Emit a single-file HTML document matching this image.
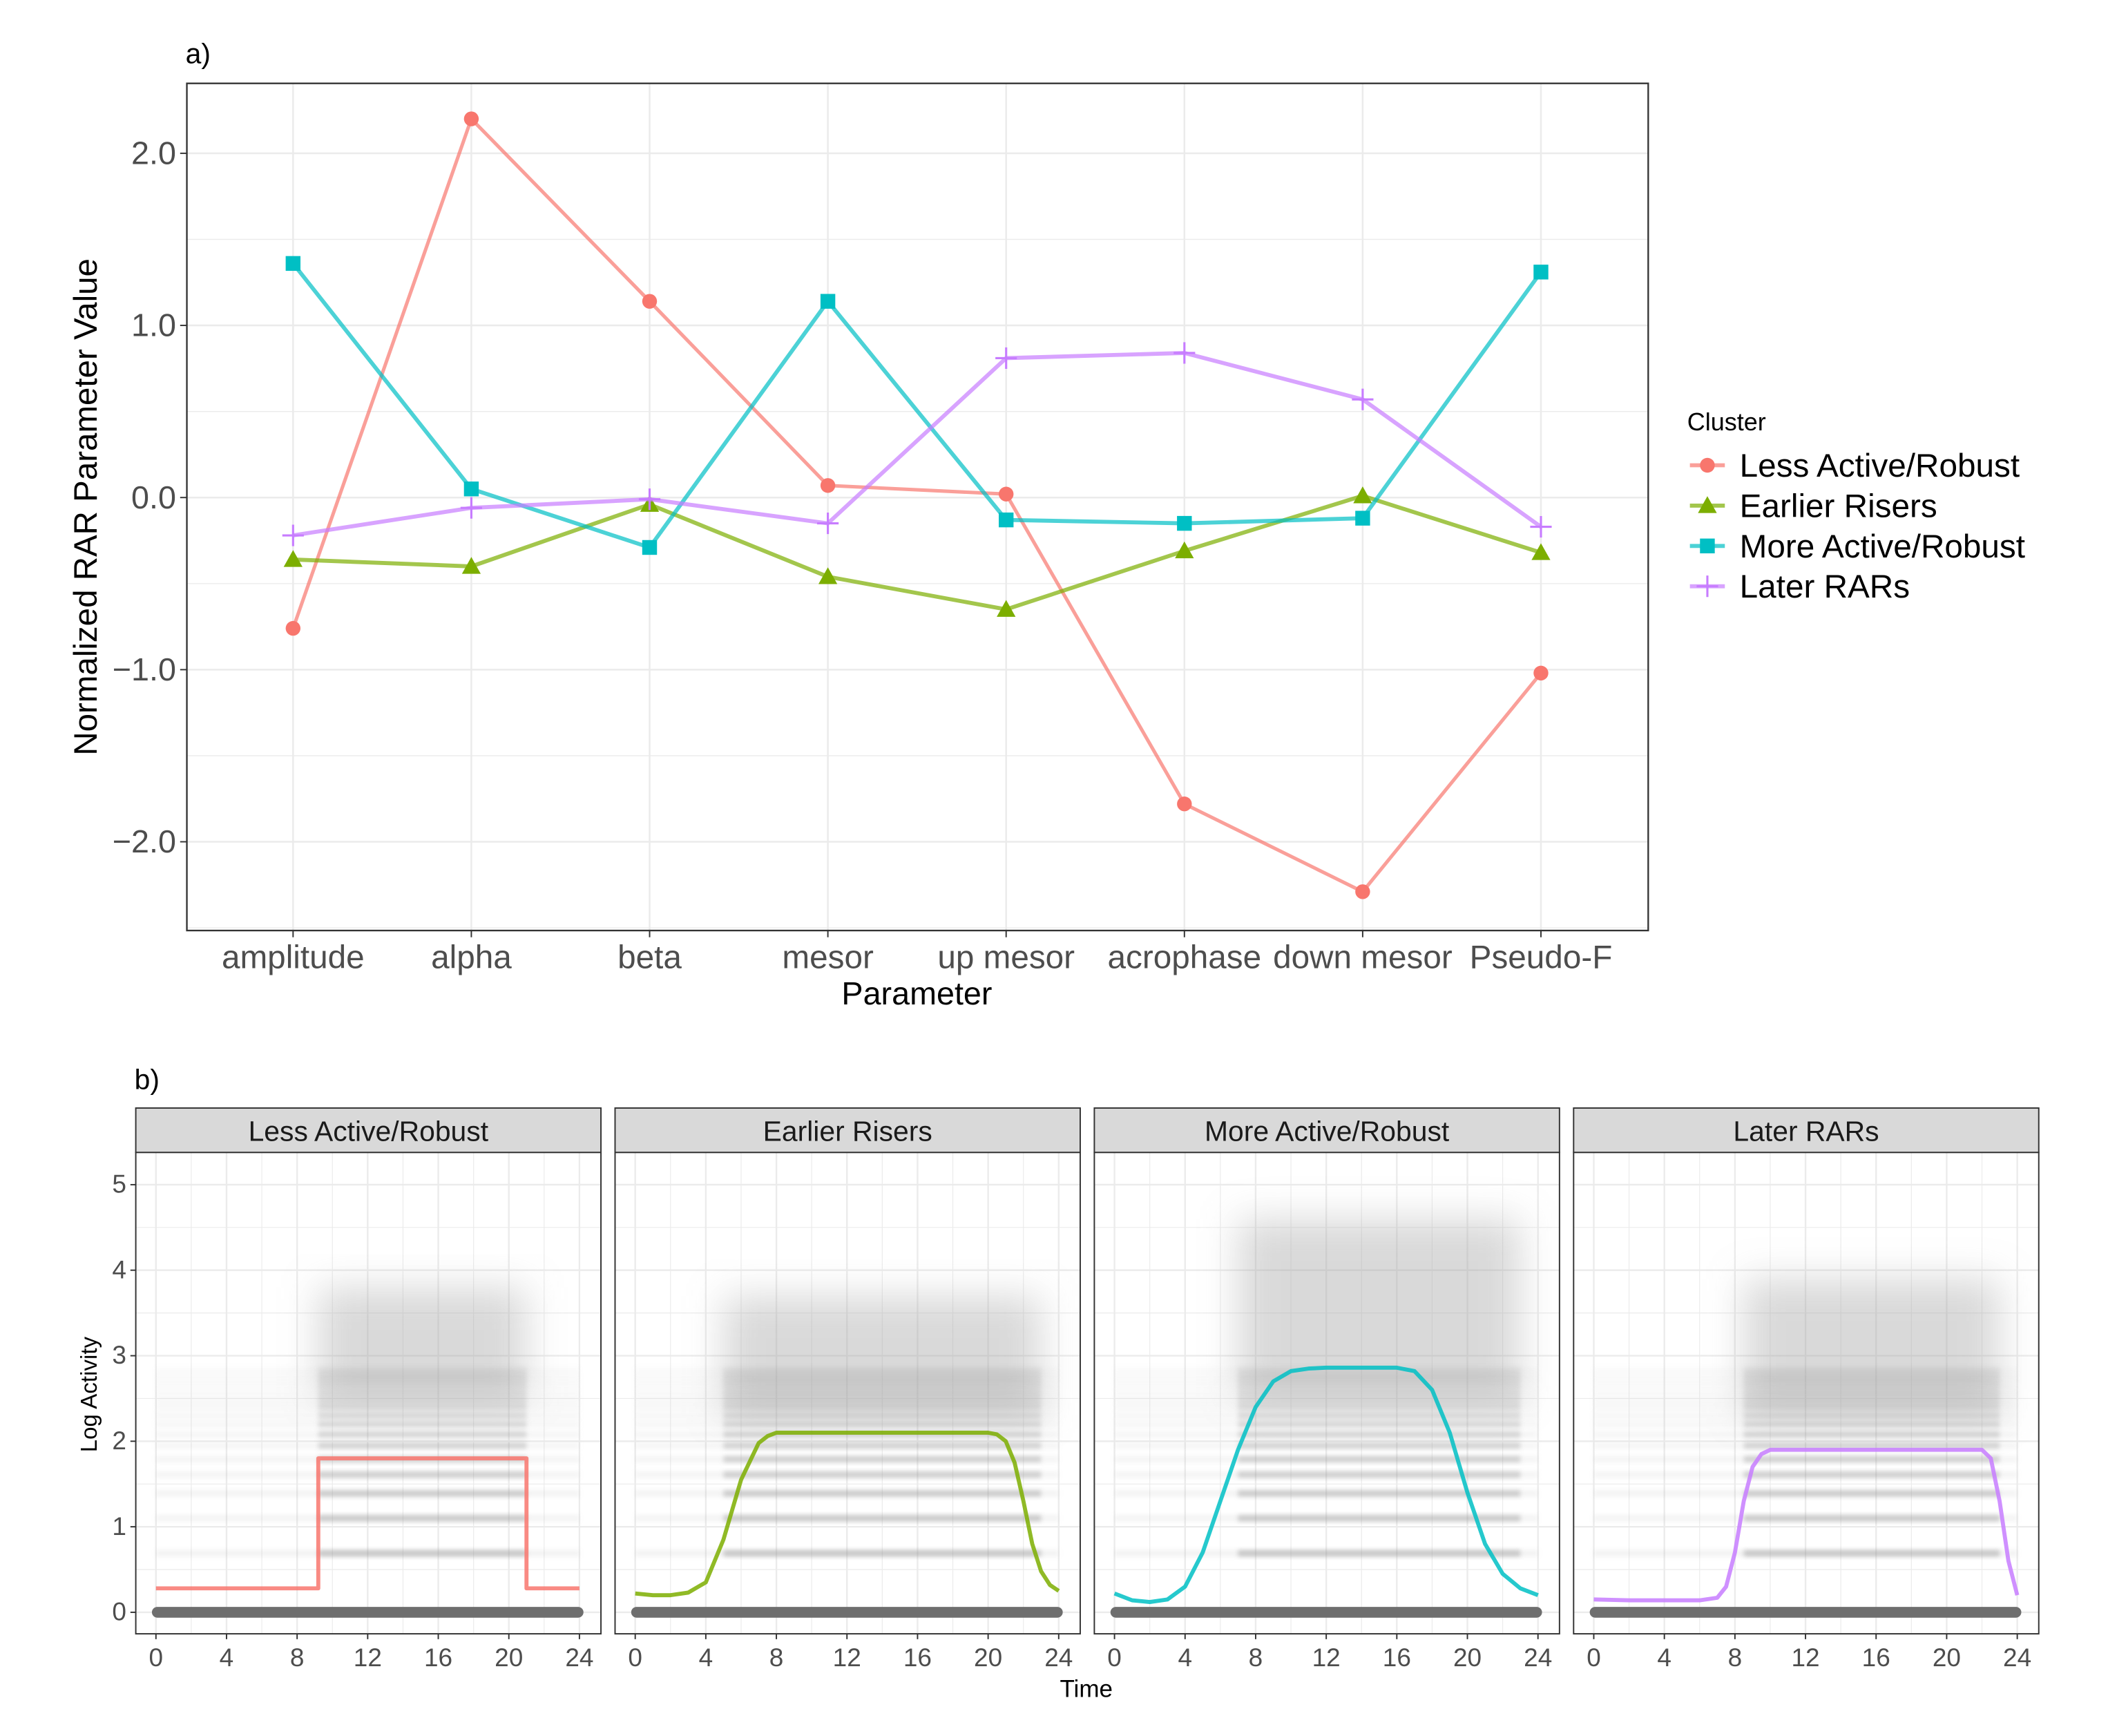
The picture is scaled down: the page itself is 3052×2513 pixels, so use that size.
<!DOCTYPE html>
<html><head><meta charset="utf-8"><style>
html,body{margin:0;padding:0;background:#fff;}
svg{display:block;font-family:"Liberation Sans",sans-serif;}
</style></head><body>
<svg id="fig" width="3052" height="2513" viewBox="0 0 1568 1291" preserveAspectRatio="none" xmlns="http://www.w3.org/2000/svg">
<defs>
<filter id="blur1" x="-20%" y="-50%" width="140%" height="200%"><feGaussianBlur stdDeviation="1.6"/></filter>
<filter id="blur2" x="-30%" y="-30%" width="160%" height="160%"><feGaussianBlur stdDeviation="14"/></filter>
</defs>
<g id="panelA"></g>
<g id="panelB"></g>
</svg>
<script>
const categories=["amplitude","alpha","beta","mesor","up mesor","acrophase","down mesor","Pseudo-F"];
const seriesNames=["Less Active/Robust","Earlier Risers","More Active/Robust","Later RARs"];
const lessActive=[-0.76,2.2,1.14,0.07,0.02,-1.78,-2.29,-1.02];
const earlierRisers=[-0.36,-0.40,-0.04,-0.46,-0.65,-0.31,0.01,-0.32];
const moreActive=[1.36,0.05,-0.29,1.14,-0.13,-0.15,-0.12,1.31];
const laterRARs=[-0.22,-0.06,-0.01,-0.15,0.81,0.84,0.57,-0.17];
const yTicks=[2,1,0,-1,-2];
const yTickLabels=["2.0","1.0","0.0","\u22121.0","\u22122.0"];
const colors=["#F8766D","#7CAE00","#00BFC4","#C77CFF"];

const hoursTicks=[0,4,8,12,16,20,24];
const logTicks=[0,1,2,3,4,5];
const curve1H=[0,9.2,9.2,21,21,24];
const curve1V=[0.28,0.28,1.8,1.8,0.28,0.28];
const curve2H=[0,1,2,3,4,5,6,7,7.5,8,12,16,20,20.5,21,21.5,22,22.5,23,23.5,24];
const curve2V=[0.22,0.2,0.2,0.23,0.35,0.85,1.55,1.98,2.06,2.1,2.1,2.1,2.1,2.08,2.0,1.75,1.3,0.8,0.48,0.32,0.25];
const curve3H=[0,1,2,3,4,5,6,7,8,9,10,11,12,16,17,18,19,20,21,22,23,24];
const curve3V=[0.22,0.14,0.12,0.15,0.3,0.7,1.3,1.9,2.4,2.7,2.82,2.85,2.86,2.86,2.82,2.6,2.1,1.4,0.8,0.45,0.28,0.2];
const curve4H=[0,2,6,7,7.5,8,8.5,9,9.5,10,22,22.5,23,23.5,24];
const curve4V=[0.15,0.14,0.14,0.17,0.3,0.7,1.3,1.7,1.85,1.9,1.9,1.8,1.3,0.6,0.2];
const bandLevels=[0.69,1.1,1.39,1.61,1.79,1.95,2.08,2.2,2.3,2.4,2.48,2.56,2.64,2.71,2.77,2.83];
const activeStart=[9.2,5,7,8.5];
const activeEnd=[21,23,23,23];
const cloudTop=[3.8,3.7,4.6,3.9];
const cloudBottom=[2.5,2.3,2.5,2.3];

const NS="http://www.w3.org/2000/svg";
function mk(tag,attrs,parent){const e=document.createElementNS(NS,tag);for(const k in attrs)e.setAttribute(k,attrs[k]);parent.appendChild(e);return e;}

// ---------- Panel A ----------
const A=document.getElementById('panelA');
const ax0=139,ax1=1226,ay0=62,ay1=692;
const xA=i=>218+i*132.6;
const yA=v=>370-v*128;
let t=mk('text',{x:138,y:47,'font-size':21,fill:'#000'},A);t.textContent='a)';

let r=mk('rect',{x:ax0,y:ay0,width:ax1-ax0,height:ay1-ay0,fill:'#fff'},A);
for(let v=-2.5;v<=2.5;v+=0.5){const y=yA(v);if(y<ay0||y>ay1)continue;
 const l=mk('line',{x1:ax0,x2:ax1,y1:y,y2:y,stroke:'#ebebeb','stroke-width':Number.isInteger(v)?1.3:0.7},A);
 }
categories.forEach((c,i)=>{const l=mk('line',{x1:xA(i),x2:xA(i),y1:ay0,y2:ay1,stroke:'#ebebeb','stroke-width':1.3},A);
 });
r=mk('rect',{x:ax0,y:ay0,width:ax1-ax0,height:ay1-ay0,fill:'none',stroke:'#333','stroke-width':1.2},A);

yTicks.forEach((v,i)=>{mk('line',{x1:ax0-5,x2:ax0,y1:yA(v),y2:yA(v),stroke:'#333'},A);
 const tt=mk('text',{x:ax0-8,y:yA(v)+8,'font-size':24,fill:'#4d4d4d','text-anchor':'end'},A);tt.textContent=yTickLabels[i];
 });
categories.forEach((c,i)=>{mk('line',{x1:xA(i),x2:xA(i),y1:ay1,y2:ay1+5,stroke:'#333'},A);
 const tt=mk('text',{x:xA(i),y:720,'font-size':24.5,fill:'#4d4d4d','text-anchor':'middle'},A);tt.textContent=c;
 });
t=mk('text',{x:682,y:747,'font-size':24,fill:'#000','text-anchor':'middle'},A);t.textContent='Parameter';

t=mk('text',{x:0,y:0,'font-size':24.4,fill:'#000','text-anchor':'middle',transform:'translate(72,377) rotate(-90)'},A);t.textContent='Normalized RAR Parameter Value';


function marker(kind,x,y,col,parent,s){
 let e;
 if(kind===0)e=mk('circle',{cx:x,cy:y,r:5.5*s,fill:col},parent);
 else if(kind===1)e=mk('polygon',{points:`${x},${y-7*s} ${x-7*s},${y+5.5*s} ${x+7*s},${y+5.5*s}`,fill:col},parent);
 else if(kind===2)e=mk('rect',{x:x-5.5*s,y:y-5.5*s,width:11*s,height:11*s,fill:col},parent);
 else e=mk('path',{d:`M${x-8*s},${y}H${x+8*s}M${x},${y-8*s}V${y+8*s}`,stroke:col,'stroke-width':1.6},parent);
 return e;}
const allSeries=[lessActive,earlierRisers,moreActive,laterRARs];
allSeries.forEach((vals,si)=>{
 const g=mk('g',{},A);
 const p=mk('polyline',{points:vals.map((v,i)=>xA(i)+','+yA(v)).join(' '),fill:'none',stroke:colors[si],'stroke-width':si===0?2.6:3,'stroke-opacity':0.7},g);
 
 vals.forEach((v,i)=>{const m=marker(si,xA(i),yA(v),colors[si],g,1);
  });
});
// legend
const L=mk('g',{},A);
t=mk('text',{x:1255,y:320,'font-size':18.5,fill:'#000'},L);t.textContent='Cluster';

seriesNames.forEach((n,i)=>{const y=346+i*30;
 const g=mk('g',{},L);
 mk('line',{x1:1257,x2:1283,y1:y,y2:y,stroke:colors[i],'stroke-width':3,'stroke-opacity':0.7},g);
 marker(i,1270,y,colors[i],g,1);
 const tt=mk('text',{x:1294,y:y+8.5,'font-size':24.5,fill:'#000'},g);tt.textContent=n;});

// ---------- Panel B ----------
const B=document.getElementById('panelB');
t=mk('text',{x:100,y:810,'font-size':21,fill:'#000'},B);t.textContent='b)';

const panelX=[101,457.5,814,1170.5], pw=346, py0=857, py1=1215, sy0=824;
const curvesH=[curve1H,curve2H,curve3H,curve4H], curvesV=[curve1V,curve2V,curve3V,curve4V];
const yB=v=>1199-v*63.6;
panelX.forEach((px,pi)=>{
 const g=mk('g',{},B);
 const xB=h=>px+15+h*13.125;
 mk('rect',{x:px,y:py0,width:pw,height:py1-py0,fill:'#fff'},g);
 for(let v=0;v<=5.5;v+=0.5){const l=mk('line',{x1:px,x2:px+pw,y1:yB(v),y2:yB(v),stroke:'#ebebeb','stroke-width':Number.isInteger(v)?1.2:0.6},g);
  }
 for(let h=0;h<=24;h+=2){const l=mk('line',{x1:xB(h),x2:xB(h),y1:py0,y2:py1,stroke:'#ebebeb','stroke-width':h%4===0?1.2:0.6},g);
  }
 const cl=mk('rect',{x:xB(activeStart[pi]),y:yB(cloudTop[pi]),width:xB(activeEnd[pi])-xB(activeStart[pi]),height:yB(cloudBottom[pi])-yB(cloudTop[pi]),fill:'#a0a0a0','fill-opacity':0.4,filter:'url(#blur2)'},g);
 
 bandLevels.forEach((lv,bi)=>{
  const op=0.4-bi*0.018;
  const b1=mk('rect',{x:xB(0),y:yB(lv)-2.5,width:xB(24)-xB(0),height:5,fill:'#aaa','fill-opacity':op*0.35,filter:'url(#blur1)'},g);
  
  const b2=mk('rect',{x:xB(activeStart[pi]),y:yB(lv)-2.5,width:xB(activeEnd[pi])-xB(activeStart[pi]),height:5,fill:'#888','fill-opacity':op,filter:'url(#blur1)'},g);
  
 });
 const z=mk('rect',{x:xB(0)-3,y:yB(0)-4,width:xB(24)-xB(0)+6,height:8,rx:4,fill:'#6e6e6e'},g);
 
 const c=mk('polyline',{points:curvesH[pi].map((h,i)=>xB(h)+','+yB(curvesV[pi][i])).join(' '),fill:'none',stroke:colors[pi],'stroke-width':3,'stroke-linejoin':'round','stroke-opacity':0.85},g);
 
 mk('rect',{x:px,y:py0,width:pw,height:py1-py0,fill:'none',stroke:'#333','stroke-width':1},g);
 const s=mk('rect',{x:px,y:sy0,width:pw,height:py0-sy0,fill:'#d9d9d9',stroke:'#333','stroke-width':1},g);
 
 const st=mk('text',{x:px+pw/2,y:848.5,'font-size':21,fill:'#1a1a1a','text-anchor':'middle'},g);st.textContent=seriesNames[pi];
 
 hoursTicks.forEach(h=>{mk('line',{x1:xB(h),x2:xB(h),y1:py1,y2:py1+4,stroke:'#333'},g);
  const tt=mk('text',{x:xB(h),y:1239,'font-size':19,fill:'#4d4d4d','text-anchor':'middle'},g);tt.textContent=h;
  });
});
logTicks.forEach(v=>{mk('line',{x1:97,x2:101,y1:yB(v),y2:yB(v),stroke:'#333'},B);
 const tt=mk('text',{x:94,y:yB(v)+6,'font-size':19,fill:'#4d4d4d','text-anchor':'end'},B);tt.textContent=v;
 });
t=mk('text',{x:808,y:1262,'font-size':18,fill:'#000','text-anchor':'middle'},B);t.textContent='Time';

t=mk('text',{x:0,y:0,'font-size':17,fill:'#000','text-anchor':'middle',transform:'translate(72,1037) rotate(-90)'},B);t.textContent='Log Activity';

</script>
</body></html>
